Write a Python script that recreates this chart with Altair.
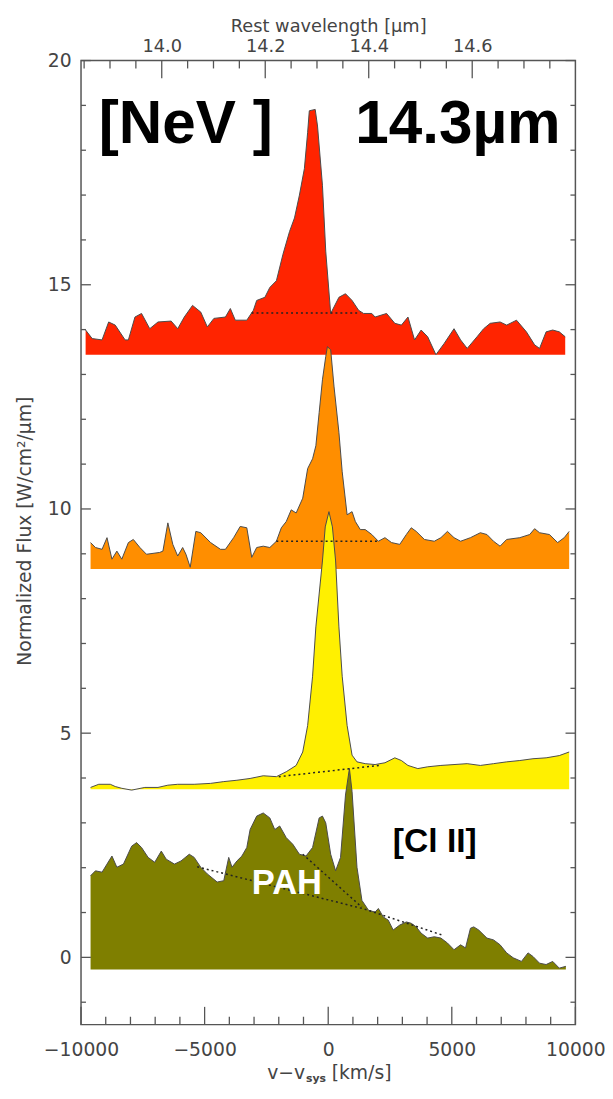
import altair as alt
import pandas as pd

# ---------------- data ----------------
red_v = [-9814, -9548, -9149, -8882, -8616, -8217, -8084, -7818, -7552, -7219, -6886, -6354, -6088, -5822,
         -5489, -5156, -4890, -4624, -4158, -3959, -3759, -3293, -3027, -2894, -2562, -2362, -2096, -1830,
         -1563, -1364, -1164, -964, -832, -765, -526, -432, -233, -100, 100, 433, 699, 965, 1231, 1431, 1763,
         1896, 2362, 2695, 2961, 3227, 3493, 3759, 4025, 4358, 4691, 5090, 5356, 5622, 6021, 6288, 6554, 6953,
         7219, 7618, 8018, 8350, 8550, 8816, 9082, 9348, 9588]
red_f = [13.99, 13.80, 13.77, 14.17, 14.10, 13.77, 13.77, 14.28, 14.36, 14.02, 14.17, 14.19, 14.02, 14.28,
         14.54, 14.39, 14.06, 14.25, 14.28, 14.47, 14.21, 14.21, 14.43, 14.65, 14.72, 14.94, 15.09, 15.68,
         16.19, 16.49, 17.00, 17.59, 18.40, 18.88, 18.91, 18.54, 17.22, 15.75, 14.36, 14.72, 14.80, 14.65,
         14.43, 14.36, 14.36, 14.28, 14.36, 14.14, 14.10, 14.28, 13.77, 13.99, 13.84, 13.44, 13.69, 14.02,
         13.77, 13.58, 13.84, 14.02, 14.14, 14.17, 14.10, 14.21, 13.95, 13.66, 13.58, 13.95, 13.99, 13.95, 13.84]
red_base = 13.44

orange_v = [-9614, -9415, -9149, -8949, -8749, -8550, -8350, -8084, -7884, -7618, -7352, -6820, -6687, -6487,
            -6287, -6088, -5888, -5755, -5582, -5356, -5156, -4757, -4358, -4158, -3826, -3560, -3293, -3094,
            -2894, -2628, -2362, -2096, -1896, -1697, -1497, -1297, -1031, -832, -632, -499, -366, -233, -100,
            -33, 100, 233, 433, 566, 765, 965, 1098, 1298, 1497, 1763, 2029, 2296, 2562, 2895, 3161, 3360, 3560,
            3892, 4292, 4558, 4824, 5090, 5356, 5755, 6155, 6421, 6687, 6953, 7219, 7751, 8151, 8350, 8550,
            8949, 9282, 9548, 9748]
orange_f = [9.25, 9.14, 9.10, 9.36, 8.88, 9.06, 8.88, 9.25, 9.32, 9.14, 8.99, 9.03, 9.06, 9.69, 9.21, 8.95,
            9.14, 8.99, 8.70, 9.50, 9.47, 9.25, 9.10, 9.10, 9.36, 9.61, 9.58, 8.92, 9.14, 9.17, 9.14, 9.28,
            9.58, 9.72, 9.98, 9.91, 10.24, 10.90, 11.12, 11.41, 12.15, 12.88, 13.40, 13.62, 13.55, 12.74,
            11.71, 10.83, 9.87, 9.94, 9.72, 9.54, 9.54, 9.43, 9.28, 9.36, 9.25, 9.21, 9.43, 9.58, 9.50, 9.32,
            9.28, 9.36, 9.50, 9.36, 9.28, 9.36, 9.47, 9.43, 9.28, 9.17, 9.32, 9.36, 9.43, 9.56, 9.47, 9.43,
            9.25, 9.36, 9.50]
orange_base = 8.66

yellow_v = [-9614, -9282, -8816, -8616, -8350, -7951, -7419, -6886, -6487, -6088, -5423, -4757, -4225, -3693,
            -3160, -2628, -2096, -1697, -1297, -1031, -832, -632, -499, -233, -120, 30, 170, 300, 433, 566,
            765, 965, 1164, 1497, 1896, 2296, 2695, 2961, 3227, 3626, 4025, 4558, 5090, 5622, 6155, 6687,
            7219, 7751, 8284, 8816, 9348, 9748]
yellow_f = [3.79, 3.86, 3.86, 3.81, 3.77, 3.73, 3.79, 3.79, 3.84, 3.86, 3.86, 3.88, 3.92, 3.95, 3.99, 4.05,
            4.03, 4.14, 4.28, 4.58, 5.17, 6.27, 7.37, 8.84, 9.60, 9.94, 9.60, 8.84, 7.37, 6.27, 5.17, 4.51,
            4.36, 4.32, 4.30, 4.34, 4.45, 4.39, 4.28, 4.21, 4.25, 4.28, 4.30, 4.32, 4.28, 4.32, 4.36, 4.39,
            4.43, 4.45, 4.50, 4.58]
yellow_base = 3.75

green_v = [-9614, -9415, -9149, -8949, -8749, -8550, -8284, -7951, -7751, -7552, -7286, -7019, -6753, -6554,
           -6221, -5955, -5622, -5423, -5156, -4890, -4491, -4225, -4025, -3892, -3693, -3493, -3293, -3160,
           -2894, -2628, -2362, -2162, -1963, -1697, -1430, -1164, -898, -632, -366, -233, -100, 100, 300,
           499, 699, 858, 965, 1164, 1364, 1630, 1896, 2029, 2229, 2429, 2628, 2894, 3161, 3360, 3560, 3759,
           4025, 4292, 4558, 4824, 5090, 5356, 5556, 5755, 5888, 6088, 6421, 6687, 6953, 7219, 7486, 7818,
           8084, 8284, 8550, 8816, 9082, 9348, 9614]
green_f = [1.82, 1.93, 1.90, 2.08, 2.26, 2.01, 2.08, 2.48, 2.56, 2.45, 2.23, 2.12, 2.37, 2.19, 2.08, 2.15,
           2.30, 2.23, 2.01, 1.86, 1.68, 1.71, 2.23, 2.01, 2.15, 2.26, 2.45, 2.85, 3.15, 3.22, 3.11, 2.85,
           2.93, 2.67, 2.52, 2.30, 2.26, 2.45, 3.11, 3.15, 3.00, 2.30, 1.93, 2.23, 3.62, 4.21, 3.70, 2.01,
           1.27, 1.05, 1.01, 1.09, 0.90, 0.83, 0.61, 0.72, 0.79, 0.76, 0.68, 0.54, 0.43, 0.46, 0.43, 0.32,
           0.17, 0.28, 0.21, 0.65, 0.68, 0.61, 0.43, 0.39, 0.28, 0.10, -0.01, -0.09, 0.10, 0.02, -0.13, -0.16,
           -0.09, -0.24, -0.20]
green_base = -0.27

# dotted continuum lines
cont_id = ["red", "red", "orange", "orange", "yellow", "yellow", "green", "green", "green", "pah", "pah"]
cont_v = [-3100, 1300, -2100, 2000, -2000, 2050, -5300, 1450, 4600, -1030, 1360]
cont_f = [14.37, 14.37, 9.28, 9.28, 4.03, 4.28, 2.02, 1.08, 0.50, 2.30, 1.12]

# axis ticks
x_major = [-10000, -5000, 0, 5000, 10000]
x_minor = [-9000, -8000, -7000, -6000, -4000, -3000, -2000, -1000, 1000, 2000, 3000, 4000,
           6000, 7000, 8000, 9000]
y_major = [0, 5, 10, 15, 20]
y_minor = [-1, 1, 2, 3, 4, 6, 7, 8, 9, 11, 12, 13, 14, 16, 17, 18, 19]
lam_major = [14.0, 14.2, 14.4, 14.6]
lam_minor = [13.85, 13.9, 13.95, 14.05, 14.1, 14.15, 14.25, 14.3, 14.35, 14.45, 14.5, 14.55,
             14.65, 14.7, 14.75]

# annotations
big_text = ["[NeV ]", "14.3µm"]
big_v = [-9281, 9401]
big_f = [18.17, 18.17]
pah_text = ["PAH"]
pah_v = [-3094]
pah_f = [1.41]
cl_text = ["[Cl II]"]
cl_v = [2615]
cl_f = [2.34]

# ---------------- chart ----------------
W, H = 501, 977
V_DOM = [-10000, 10000]
F_DOM = [-1.5, 20]
L_DOM = [13.8440, 14.7994]
AX = "DejaVu Sans"
TXT = "#444444"
TICK_COLOR = "#555555"
TICK_W = 1.3
xs = alt.Scale(domain=V_DOM, nice=False, zero=False)
ys = alt.Scale(domain=F_DOM, nice=False, zero=False)
ls = alt.Scale(domain=L_DOM, nice=False, zero=False)

PX_F = (F_DOM[1] - F_DOM[0]) / H
PX_V = (V_DOM[1] - V_DOM[0]) / W
X_MAJ, X_MIN = 18 * PX_F, 8 * PX_F
Y_MAJ, Y_MIN = 10 * PX_V, 5 * PX_V

x_axis = alt.Axis(values=x_major, format="d", ticks=False, domain=False, grid=False,
                  labelPadding=31, labelBaseline="alphabetic", labelFlush=False, labelFont=AX,
                  labelFontSize=19, labelColor=TXT, title=None)
y_axis = alt.Axis(values=y_major, format="d", ticks=False, domain=False, grid=False,
                  labelPadding=10, labelFlush=False, labelFont=AX, labelFontSize=19, labelColor=TXT,
                  title="Normalized Flux [W/cm²/µm]", titleFont=AX, titleFontSize=19, titleFontWeight="normal",
                  titleColor=TXT, titleX=-57, titleY=H / 2 - 12, titleAngle=270, titleAlign="center",
                  titleBaseline="middle")
l_axis = alt.Axis(orient="top", values=lam_major, format=".1f", ticks=False, domain=False,
                  grid=False, labelPadding=9, labelBaseline="alphabetic", labelFlush=False, labelFont=AX,
                  labelFontSize=18, labelColor=TXT, title="Rest wavelength [µm]", titleFont=AX,
                  titleFontSize=18, titleFontWeight="normal", titleColor=TXT, titleX=W / 2, titleY=-29,
                  titleBaseline="alphabetic")


def X(field="v"):
    return alt.X(f"{field}:Q", scale=xs, axis=x_axis)


def Y(field="f"):
    return alt.Y(f"{field}:Q", scale=ys, axis=y_axis)


series = [
    (red_v, red_f, red_base, "#ff2400"),
    (orange_v, orange_f, orange_base, "#ff8e00"),
    (yellow_v, yellow_f, yellow_base, "#fff000"),
    (green_v, green_f, green_base, "#7f7f00"),
]

layers = []
for vv, ff, base, col in series:
    df = pd.DataFrame({"v": vv, "f": ff, "base": [base] * len(vv)})
    layers.append(alt.Chart(df).mark_area(color=col, opacity=1).encode(x=X(), y=Y(), y2="base:Q"))
    layers.append(alt.Chart(df).mark_line(color="#4a4a4a", strokeWidth=1).encode(x=X(), y=Y()))

cont = pd.DataFrame({"v": cont_v, "f": cont_f, "id": cont_id})
layers.append(alt.Chart(cont).mark_line(color="#222222", strokeWidth=1.5, strokeDash=[2, 3]).encode(
    x=X(), y=Y(), detail="id:N"))

# inward ticks as rules with start/end columns
bx = pd.DataFrame({"v": x_major + x_minor,
                   "f": [F_DOM[0]] * (len(x_major) + len(x_minor)),
                   "f2": [F_DOM[0] + X_MAJ] * len(x_major) + [F_DOM[0] + X_MIN] * len(x_minor)})
layers.append(alt.Chart(bx).mark_rule(stroke=TICK_COLOR, strokeWidth=TICK_W).encode(
    x=X(), y=Y(), y2="f2:Q"))
ly = pd.DataFrame({"f": y_major + y_minor + y_major + y_minor,
                   "v": [V_DOM[0]] * (len(y_major) + len(y_minor)) + [V_DOM[1]] * (len(y_major) + len(y_minor)),
                   "v2": [V_DOM[0] + Y_MAJ] * len(y_major) + [V_DOM[0] + Y_MIN] * len(y_minor)
                   + [V_DOM[1] - Y_MAJ] * len(y_major) + [V_DOM[1] - Y_MIN] * len(y_minor)})
layers.append(alt.Chart(ly).mark_rule(stroke=TICK_COLOR, strokeWidth=TICK_W).encode(
    y=Y(), x=X(), x2="v2:Q"))

# annotations
big = pd.DataFrame({"v": big_v, "f": big_f, "t": big_text})
layers.append(alt.Chart(big.iloc[[0]]).mark_text(font="Liberation Sans", fontWeight="bold", fontSize=61,
                                                 align="left", baseline="alphabetic", color="black").encode(
    x=X(), y=Y(), text="t:N"))
layers.append(alt.Chart(big.iloc[[1]]).mark_text(font="Liberation Sans", fontWeight="bold", fontSize=61,
                                                 align="right", baseline="alphabetic", color="black").encode(
    x=X(), y=Y(), text="t:N"))
layers.append(alt.Chart(pd.DataFrame({"v": pah_v, "f": pah_f, "t": pah_text})).mark_text(
    font="Liberation Sans", fontWeight="bold", fontSize=35, align="left", baseline="alphabetic",
    color="white").encode(x=X(), y=Y(), text="t:N"))
layers.append(alt.Chart(pd.DataFrame({"v": cl_v, "f": cl_f, "t": cl_text})).mark_text(
    font="Liberation Sans", fontWeight="bold", fontSize=34, align="left", baseline="alphabetic",
    color="black").encode(x=X(), y=Y(), text="t:N"))

# bottom axis title with subscript
layers.append(alt.Chart(pd.DataFrame({"t": ["v−v"]})).mark_text(
    font=AX, fontSize=19, align="right", baseline="alphabetic", color=TXT).encode(
    x=alt.value(227), y=alt.value(H + 55), text="t:N"))
layers.append(alt.Chart(pd.DataFrame({"t": ["sys"]})).mark_text(
    font=AX, fontSize=11, fontWeight="bold", align="left", baseline="alphabetic", color=TXT).encode(
    x=alt.value(228), y=alt.value(H + 58), text="t:N"))
layers.append(alt.Chart(pd.DataFrame({"t": ["[km/s]"]})).mark_text(
    font=AX, fontSize=19, align="left", baseline="alphabetic", color=TXT).encode(
    x=alt.value(254), y=alt.value(H + 55), text="t:N"))

main = alt.layer(*layers)

tl = pd.DataFrame({"lam": lam_major + lam_minor,
                   "f": [F_DOM[1]] * (len(lam_major) + len(lam_minor)),
                   "f2": [F_DOM[1] - X_MAJ] * len(lam_major) + [F_DOM[1] - X_MIN] * len(lam_minor)})
top = alt.Chart(tl).mark_rule(stroke=TICK_COLOR, strokeWidth=TICK_W).encode(
    x=alt.X("lam:Q", scale=ls, axis=l_axis), y=Y(), y2="f2:Q")

chart = alt.layer(main, top).resolve_scale(x="independent").properties(
    width=W, height=H,
    autosize=alt.AutoSizeParams(type="none"),
    padding={"left": 74, "top": 46, "right": 30, "bottom": 60},
    background="white",
).configure_view(stroke="#555555", strokeWidth=1.5)

chart.save("out.html", embed_options={"renderer": "svg", "actions": False})
